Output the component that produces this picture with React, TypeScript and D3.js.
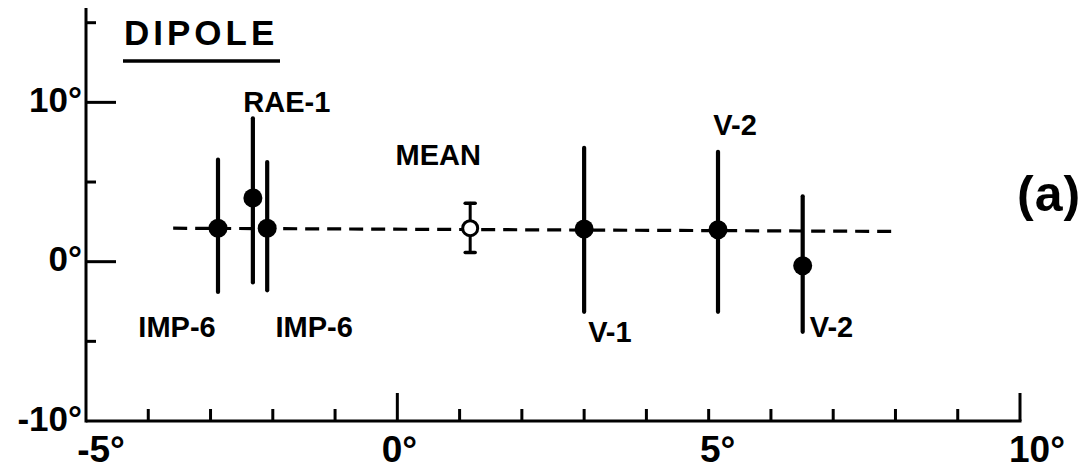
import React from 'react';
import * as d3 from 'd3';

const labels = ['IMP-6', 'RAE-1', 'IMP-6', 'MEAN', 'V-1', 'V-2', 'V-2'];
const xValues = [-2.88, -2.32, -2.09, 1.17, 3.0, 5.15, 6.51];
const yValues = [2.1, 4.0, 2.1, 2.1, 2.05, 2.0, -0.25];
const errLow = [-1.9, -1.3, -1.8, 0.57, -3.15, -3.15, -4.4];
const errHigh = [6.4, 9.0, 6.25, 3.67, 7.15, 6.9, 4.1];
const isMean = [false, false, false, true, false, false, false];

// dashed mean line
const meanLineX = [-3.6, 7.96];
const meanLineY = [2.1, 1.9];

const xTicks = [-5, -4, -3, -2, -1, 0, 1, 2, 3, 4, 5, 6, 7, 8, 9, 10];
const xMajor = [0, 10];
const xTickLabels = ['-5°', '0°', '5°', '10°'];
const xLabelValues = [-5, 0, 5, 10];

const yTicks = [-5, 0, 5, 10, 15];
const yMajor = [0, 10];
const yTickLabels = ['-10°', '0°', '10°'];
const yLabelValues = [-10, 0, 10];

// hand lettering sits a bit off the ticks
const xLabelShift = [15, 2, 9, 17];

// label placement (pixels, relative to the point and its bar)
const labelPlacement = [
  { anchor: 'middle', dx: -41, end: 'bottom', dy: 45 },
  { anchor: 'middle', dx: 34, end: 'top', dy: -6 },
  { anchor: 'middle', dx: 47, end: 'bottom', dy: 47 },
  { anchor: 'middle', dx: -32, end: 'top', dy: -38 },
  { anchor: 'start', dx: 4, end: 'bottom', dy: 30 },
  { anchor: 'middle', dx: 17, end: 'top', dy: -17 },
  { anchor: 'start', dx: 7, end: 'bottom', dy: 5 },
];

const W = 1090;
const H = 473;
const FONT = '"Liberation Sans", Arial, sans-serif';

export default function App() {
  const x = d3.scaleLinear().domain([-5, 10]).range([86, 1020]);
  const y = d3.scaleLinear().domain([-10, 15]).range([421, 22.7]);

  const line = d3
    .line<number>()
    .x((d) => x(d))
    .y((_, i) => y(meanLineY[i]));

  const points = labels.map((label, i) => ({
    label,
    x: xValues[i],
    y: yValues[i],
    lo: errLow[i],
    hi: errHigh[i],
    mean: isMean[i],
    place: labelPlacement[i],
  }));

  return (
    <svg
      width={W}
      height={H}
      style={{ position: 'absolute', left: 0, top: 0, background: '#fff' }}
      fontFamily={FONT}
      fontWeight="bold"
    >
      {/* axes */}
      <g stroke="#000" strokeWidth={3} fill="none">
        <line x1={x(-5)} x2={x(-5)} y1={8} y2={y(-10) + 1.5} />
        <line x1={x(-5)} x2={x(10) + 1.5} y1={y(-10)} y2={y(-10)} />
        {xTicks
          .filter((t) => t !== -5)
          .map((t) => (
            <line
              key={'xt' + t}
              x1={x(t)}
              x2={x(t)}
              y1={y(-10)}
              y2={y(-10) - (xMajor.includes(t) ? 28 : 12)}
            />
          ))}
        {yTicks.map((t) => (
          <line
            key={'yt' + t}
            x1={x(-5)}
            x2={x(-5) + (yMajor.includes(t) ? 30 : 10)}
            y1={y(t)}
            y2={y(t)}
          />
        ))}
      </g>

      {/* tick labels */}
      <g fontSize={37} fill="#000">
        {xLabelValues.map((v, i) => (
          <text key={'xl' + v} x={x(v) + xLabelShift[i]} y={462} textAnchor="middle">
            {xTickLabels[i]}
          </text>
        ))}
      </g>
      <g fontSize={35} fill="#000">
        {yLabelValues.map((v, i) => (
          <text key={'yl' + v} x={x(-5) - 4} y={y(v) - 3} textAnchor="end" dominantBaseline="central">
            {yTickLabels[i]}
          </text>
        ))}
      </g>

      {/* title */}
      <text x={124} y={45} fontSize={35} letterSpacing={4} fill="#000">
        DIPOLE
      </text>
      <line x1={123} x2={280} y1={61} y2={61} stroke="#000" strokeWidth={3.5} />
      <text x={1017} y={211} fontSize={50} letterSpacing={1} fill="#000">
        (a)
      </text>

      {/* dashed mean line */}
      <path
        d={line(meanLineX) || ''}
        stroke="#000"
        strokeWidth={3.2}
        strokeDasharray="14 8"
        fill="none"
      />

      {/* error bars and points */}
      {points.map((p, i) => {
        const cx = x(p.x);
        const top = y(p.hi);
        const bot = y(p.lo);
        const ly = (p.place.end === 'top' ? top : bot) + p.place.dy;
        return (
          <g key={'p' + i}>
            <line
              x1={cx}
              x2={cx}
              y1={top}
              y2={bot}
              stroke="#000"
              strokeWidth={p.mean ? 3 : 4.2}
              strokeLinecap="round"
            />
            {p.mean && (
              <g stroke="#000" strokeWidth={3.5} strokeLinecap="round">
                <line x1={cx - 5} x2={cx + 5} y1={top} y2={top} />
                <line x1={cx - 5} x2={cx + 5} y1={bot} y2={bot} />
              </g>
            )}
            {p.mean ? (
              <circle cx={cx} cy={y(p.y)} r={7.5} fill="#fff" stroke="#000" strokeWidth={3} />
            ) : (
              <circle cx={cx} cy={y(p.y)} r={9.5} fill="#000" />
            )}
            <text
              x={cx + p.place.dx}
              y={ly}
              textAnchor={p.place.anchor}
              fontSize={29}
              fill="#000"
            >
              {p.label}
            </text>
          </g>
        );
      })}
    </svg>
  );
}
